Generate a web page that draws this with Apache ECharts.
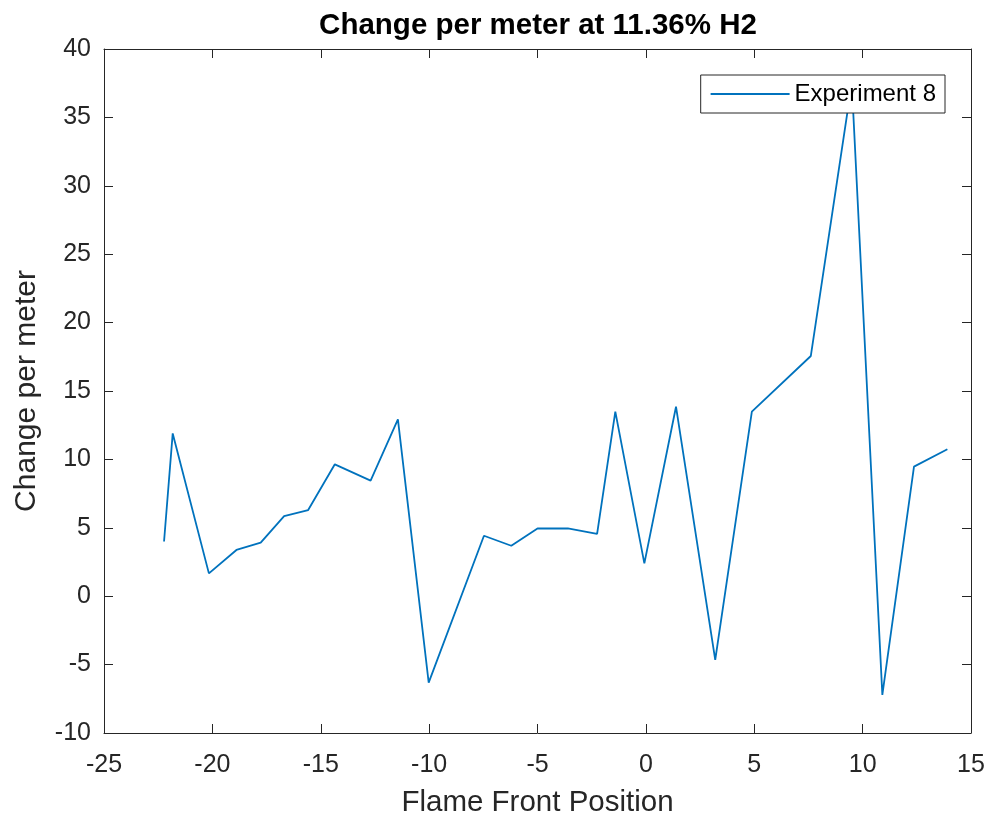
<!DOCTYPE html>
<html>
<head>
<meta charset="utf-8">
<title>Change per meter at 11.36% H2</title>
<script src="https://cdn.jsdelivr.net/npm/echarts@6/dist/echarts.min.js"></script>
<style>
  html, body { margin: 0; padding: 0; background: #fff; }
  #chart { width: 989px; height: 816px; }
</style>
</head>
<body>
<div id="chart"></div>
<script>
// Flame front position (x) and change per meter (y) for Experiment 8
const flamePos = [-22.23, -21.83, -20.16, -18.89, -17.77, -16.69, -15.58, -14.35, -12.70, -11.44,
                  -10.02, -7.47, -6.21, -5.0, -3.6, -2.25, -1.41, -0.07, 1.39, 3.2,
                  4.89, 7.61, 9.5, 10.91, 12.37, 13.91];
const changePerMeter = [4.0, 11.9, 1.67, 3.38, 3.91, 5.86, 6.3, 9.64, 8.45, 12.93,
                        -6.32, 4.42, 3.69, 4.95, 4.95, 4.55, 13.49, 2.4, 13.85, -4.66,
                        13.49, 17.56, 37.5, -7.22, 9.47, 10.74];
const seriesName = 'Experiment 8';

const xRange = { min: -25, max: 15, interval: 5 };
const yRange = { min: -10, max: 40, interval: 5 };

const FONT = "'Liberation Sans', Arial, Helvetica, sans-serif";
const INK = '#262626';

const points = flamePos.map((x, i) => [x, changePerMeter[i]]);

// Box-style axes: ticks pointing inward on all four sides
function boxAxis(range, position, showLabels, extra) {
  return Object.assign({
    type: 'value',
    position: position,
    min: range.min,
    max: range.max,
    interval: range.interval,
    splitLine: { show: false },
    axisLine: { show: true, onZero: false, lineStyle: { color: INK, width: 1 } },
    axisTick: { show: true, inside: true, length: 9, lineStyle: { color: INK, width: 1 } },
    axisLabel: { show: showLabels, color: INK, fontFamily: FONT, fontSize: 25 }
  }, extra || {});
}

const chart = echarts.init(document.getElementById('chart'), null, { renderer: 'canvas' });
chart.setOption({
  animation: false,
  backgroundColor: '#fff',
  title: {
    text: 'Change per meter at 11.36% H2',
    left: 538,
    textAlign: 'center',
    top: 11,
    padding: 0,
    textStyle: { fontFamily: FONT, fontSize: 29.5, fontWeight: 'bold', color: '#000' }
  },
  grid: { left: 104, right: 18, top: 49, bottom: 83, containLabel: false, outerBoundsMode: 'none' },
  legend: {
    right: 44,
    top: 75,
    orient: 'vertical',
    padding: [7, 9, 7, 9],
    itemWidth: 79,
    itemHeight: 24,
    backgroundColor: '#fff',
    borderColor: INK,
    borderWidth: 1,
    borderRadius: 0,
    itemStyle: { opacity: 0 },
    lineStyle: { color: '#0072BD', width: 1.8 },
    textStyle: { fontFamily: FONT, fontSize: 24, color: '#000' },
    data: [seriesName]
  },
  xAxis: [
    boxAxis(xRange, 'bottom', true, {
      name: 'Flame Front Position',
      nameLocation: 'middle',
      nameGap: 55,
      nameTextStyle: { fontFamily: FONT, fontSize: 29.5, color: INK },
      axisLabel: { show: true, color: INK, fontFamily: FONT, fontSize: 25, margin: 20 }
    }),
    boxAxis(xRange, 'top', false)
  ],
  yAxis: [
    boxAxis(yRange, 'left', true, {
      name: 'Change per meter',
      nameLocation: 'middle',
      nameGap: 62,
      nameTextStyle: { fontFamily: FONT, fontSize: 30, color: INK },
      axisLabel: { show: true, color: INK, fontFamily: FONT, fontSize: 25, margin: 13 }
    }),
    boxAxis(yRange, 'right', false)
  ],
  series: [{
    name: seriesName,
    type: 'line',
    xAxisIndex: 0,
    yAxisIndex: 0,
    data: points,
    symbol: 'none',
    showSymbol: false,
    lineStyle: { color: '#0072BD', width: 1.8 },
    itemStyle: { color: '#0072BD' },
    z: 2
  }]
});
</script>
</body>
</html>
